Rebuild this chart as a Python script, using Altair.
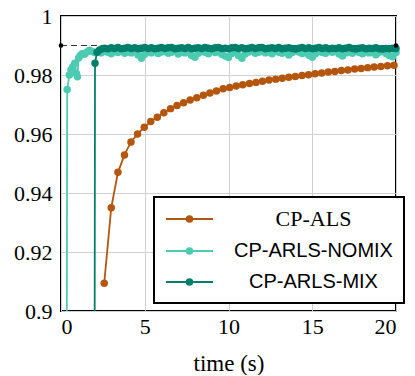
import altair as alt
import pandas as pd

# ---------------- data ----------------
als_t = [2.58, 3.00, 3.40, 3.79, 4.18, 4.57, 4.97, 5.36, 5.75, 6.14, 6.54, 6.93, 7.32, 7.71, 8.11,
         8.50, 8.89, 9.28, 9.68, 10.07, 10.46, 10.85, 11.25, 11.64, 12.03, 12.42, 12.82, 13.21,
         13.60, 13.99, 14.39, 14.78, 15.17, 15.56, 15.96, 16.35, 16.74, 17.13, 17.53, 17.92,
         18.31, 18.70, 19.10, 19.49, 19.88]
als_v = [0.9094, 0.9350, 0.9470, 0.9529, 0.9573, 0.9600, 0.9623, 0.9642, 0.9657, 0.9672, 0.9686,
         0.9697, 0.9706, 0.9715, 0.9723, 0.9731, 0.9739, 0.9746, 0.9753, 0.9758, 0.9763, 0.9767,
         0.9771, 0.9775, 0.9779, 0.9783, 0.9786, 0.9789, 0.9792, 0.9795, 0.9798, 0.9801, 0.9804,
         0.9807, 0.9810, 0.9812, 0.9815, 0.9817, 0.9820, 0.9822, 0.9825, 0.9827, 0.9829, 0.9831,
         0.9833]

nomix_t = [0.25, 0.37, 0.50, 0.60, 0.70, 0.82, 0.92, 0.98, 1.05, 1.15, 1.27, 1.40, 1.55, 1.70, 1.85, 2.0,
           2.2, 2.4, 2.6, 2.8, 3.0, 3.2, 3.4, 3.6, 3.8, 4.0,
           4.2, 4.4, 4.6, 4.8, 5.0, 5.2, 5.4, 5.6, 5.8, 6.0,
           6.2, 6.4, 6.6, 6.8, 7.0, 7.2, 7.4, 7.6, 7.8, 8.0,
           8.2, 8.4, 8.6, 8.8, 9.0, 9.2, 9.4, 9.6, 9.8, 10.0,
           10.2, 10.4, 10.6, 10.8, 11.0, 11.2, 11.4, 11.6, 11.8, 12.0,
           12.2, 12.4, 12.6, 12.8, 13.0, 13.2, 13.4, 13.6, 13.8, 14.0,
           14.2, 14.4, 14.6, 14.8, 15.0, 15.2, 15.4, 15.6, 15.8, 16.0,
           16.2, 16.4, 16.6, 16.8, 17.0, 17.2, 17.4, 17.6, 17.8, 18.0,
           18.2, 18.4, 18.6, 18.8, 19.0, 19.2, 19.4, 19.6, 19.8, 20.0]
nomix_v = [0.60, 0.9751, 0.9800, 0.9818, 0.9828, 0.9840, 0.9805, 0.9794, 0.9858, 0.9866, 0.9872, 0.9870,
           0.9878, 0.9884, 0.9880, 0.9876,
           0.9879, 0.9875, 0.9881, 0.9877, 0.9872, 0.9880, 0.9876, 0.9883, 0.9874, 0.9878,
           0.9875, 0.9881, 0.9868, 0.9857, 0.9870, 0.9879, 0.9875, 0.9882, 0.9873, 0.9878,
           0.9880, 0.9874, 0.9877, 0.9883, 0.9871, 0.9878, 0.9875, 0.9881, 0.9866, 0.9860,
           0.9874, 0.9880, 0.9877, 0.9872, 0.9882, 0.9876, 0.9879, 0.9870, 0.9864, 0.9859,
           0.9873, 0.9880, 0.9866, 0.9857, 0.9871, 0.9878, 0.9882, 0.9874, 0.9877, 0.9881,
           0.9875, 0.9879, 0.9872, 0.9883, 0.9877, 0.9874, 0.9880, 0.9868, 0.9876, 0.9882,
           0.9878, 0.9873, 0.9879, 0.9867, 0.9860, 0.9872, 0.9881, 0.9876, 0.9874, 0.9880,
           0.9877, 0.9883, 0.9871, 0.9864, 0.9875, 0.9879, 0.9874, 0.9882, 0.9876, 0.9872,
           0.9880, 0.9875, 0.9878, 0.9869, 0.9877, 0.9881, 0.9873, 0.9866, 0.9862, 0.9876]

mix_t = [1.93, 2.03, 2.15, 2.30, 2.45,
         2.6, 2.8, 3.0, 3.2, 3.4, 3.6, 3.8, 4.0, 4.2, 4.4,
         4.6, 4.8, 5.0, 5.2, 5.4, 5.6, 5.8, 6.0, 6.2, 6.4,
         6.6, 6.8, 7.0, 7.2, 7.4, 7.6, 7.8, 8.0, 8.2, 8.4,
         8.6, 8.8, 9.0, 9.2, 9.4, 9.6, 9.8, 10.0, 10.2, 10.4,
         10.6, 10.8, 11.0, 11.2, 11.4, 11.6, 11.8, 12.0, 12.2, 12.4,
         12.6, 12.8, 13.0, 13.2, 13.4, 13.6, 13.8, 14.0, 14.2, 14.4,
         14.6, 14.8, 15.0, 15.2, 15.4, 15.6, 15.8, 16.0, 16.2, 16.4,
         16.6, 16.8, 17.0, 17.2, 17.4, 17.6, 17.8, 18.0, 18.2, 18.4,
         18.6, 18.8, 19.0, 19.2, 19.4, 19.6, 19.8, 20.0]
mix_v = [0.55, 0.9840, 0.9877, 0.9885, 0.9889,
         0.9891, 0.9889, 0.9892, 0.9890, 0.9893, 0.9889, 0.9891, 0.9893, 0.9890, 0.9892,
         0.9889, 0.9891, 0.9893, 0.9890, 0.9892, 0.9889, 0.9891, 0.9893, 0.9890, 0.9892,
         0.9893, 0.9889, 0.9891, 0.9892, 0.9890, 0.9893, 0.9889, 0.9891, 0.9892, 0.9890,
         0.9893, 0.9891, 0.9889, 0.9892, 0.9893, 0.9890, 0.9891, 0.9889, 0.9892, 0.9893,
         0.9890, 0.9892, 0.9889, 0.9891, 0.9893, 0.9890, 0.9892, 0.9893, 0.9889, 0.9891,
         0.9892, 0.9890, 0.9893, 0.9889, 0.9891, 0.9892, 0.9890, 0.9888, 0.9891, 0.9893,
         0.9890, 0.9892, 0.9889, 0.9891, 0.9893, 0.9890, 0.9892, 0.9889, 0.9891, 0.9890,
         0.9892, 0.9889, 0.9891, 0.9893, 0.9890, 0.9888, 0.9891, 0.9892, 0.9889, 0.9891,
         0.9890, 0.9892, 0.9889, 0.9888, 0.9890, 0.9889, 0.9891, 0.9890]

series_names = ["CP-ALS", "CP-ARLS-NOMIX", "CP-ARLS-MIX"]
series_colors = ["#B5560F", "#4CCBB2", "#00806A"]

ref_level = [0.99]
ref_x = [0, 20]
x_ticks = [0, 5, 10, 15, 20]
y_ticks = [0.9, 0.92, 0.94, 0.96, 0.98, 1.0]

# ---------------- tables ----------------
rows = []
for name, ts, vs in [(series_names[0], als_t, als_v),
                     (series_names[1], nomix_t, nomix_v),
                     (series_names[2], mix_t, mix_v)]:
    for t, v in zip(ts, vs):
        rows.append({"time": t, "acc": v, "series": name})
df = pd.DataFrame(rows)
ref_rule = pd.DataFrame({"x0": [ref_x[0]], "x1": [ref_x[1]], "acc": ref_level})
ref_pts = pd.DataFrame({"time": ref_x, "acc": ref_level * 2})

x_enc = alt.X("time:Q", scale=alt.Scale(domain=[0, 20], nice=False),
              axis=alt.Axis(values=x_ticks, format="d", title="time (s)"))
y_enc = alt.Y("acc:Q", scale=alt.Scale(domain=[0.9, 1.0], nice=False, zero=False),
              axis=alt.Axis(values=y_ticks, format=".2~f", title=None))

# legend glyph: a 47px line with a dot; symbol size kept small so rows stay compact
PATH = "M-2.35,0H2.35M0.28,0A0.28,0.28,0,1,1,-0.28,0A0.28,0.28,0,1,1,0.28,0Z"
legend = alt.Legend(
    title=None, orient="none", legendX=93, legendY=181,
    symbolType=PATH, symbolSize=400, symbolStrokeWidth=2, symbolOpacity=1,
    symbolOffset=13.5,
    labelAlign="center", labelOffset=113, labelLimit=0,
    labelFont={"expr": "datum.label == 'CP-ALS' ? 'Liberation Serif' : 'Liberation Sans'"},
    labelFontSize={"expr": "datum.label == 'CP-ALS' ? 22 : 20"},
    labelColor="black", rowPadding=10, padding=11,
    fillColor="white", strokeColor="black",
)
sc_scale = alt.Scale(domain=series_names, range=series_colors)

rule = alt.Chart(ref_rule).mark_rule(color="#333333", strokeWidth=1, strokeDash=[6, 4]).encode(
    x="x0:Q", x2="x1:Q", y="acc:Q")

lines = alt.Chart(df).mark_line(strokeWidth=1.8, clip=True).encode(
    x=x_enc, y=y_enc,
    stroke=alt.Stroke("series:N", scale=sc_scale, legend=legend),
    order=alt.Order("time:Q"),
)
points = alt.Chart(df).transform_filter("datum.acc >= 0.9").mark_circle(size=56, opacity=1).encode(
    x=x_enc, y=y_enc,
    fill=alt.Fill("series:N", scale=sc_scale, legend=legend),
)
ends = alt.Chart(ref_pts).mark_circle(size=22, color="black", opacity=1).encode(
    x="time:Q", y="acc:Q")

chart = alt.layer(rule, lines, points, ends).properties(
    width=335, height=295,
    autosize=alt.AutoSizeParams(type="none"),
    padding={"left": 53, "top": 8, "right": 11, "bottom": 64},
).configure_view(
    stroke="black", strokeWidth=2
).configure_axis(
    grid=True, gridColor="#d0d0d0", gridWidth=1, domain=False, ticks=False,
    labelFont="Liberation Serif", labelFontSize=22, labelColor="black",
    titleFont="Liberation Serif", titleFontSize=23, titleFontWeight="normal", titleColor="black",
).configure_axisX(
    labelPadding=5, titlePadding=15
).configure_axisY(
    labelPadding=9
).configure_legend(
    strokeWidth=2
)

chart.save("out.html", embed_options={"renderer": "svg", "actions": False})
